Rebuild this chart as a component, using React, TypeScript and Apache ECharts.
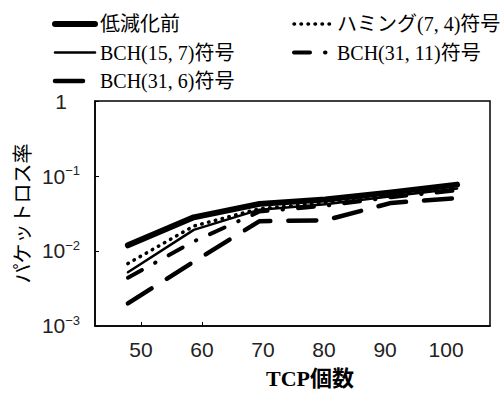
import { useEffect, useRef } from 'react';
import * as echarts from 'echarts';

// Categories (TCP count) and tick labels
const xCategories = ['50', '60', '70', '80', '90', '100'];
const xTickValues = [50, 60, 70, 80, 90, 100];
const xMarkedTicks = [50, 60];

// Series names
const nameBase = '低減化前';
const nameHam = 'ハミング(7, 4)符号';
const nameB157 = 'BCH(15, 7)符号';
const nameB3111 = 'BCH(31, 11)符号';
const nameB316 = 'BCH(31, 6)符号';

// Packet loss rate values
const baseline = [0.0119, 0.0281, 0.0425, 0.0485, 0.0605, 0.0767];
const hamming74 = [0.0068, 0.0215, 0.0367, 0.0438, 0.0554, 0.0702];
const bch157 = [0.0052, 0.0191, 0.0356, 0.0419, 0.0538, 0.0681];
const bch3111 = [0.0044, 0.0134, 0.0336, 0.0401, 0.0522, 0.0643];
const bch316 = [0.0020, 0.0072, 0.0250, 0.0257, 0.0438, 0.0507];

const SERIF = "'Liberation Serif', 'Noto Sans CJK JP', serif";
const SANS = "'Liberation Sans', 'Noto Sans', sans-serif";
const JP = "'Noto Sans CJK JP', sans-serif";

export default function App() {
  const ref = useRef<HTMLDivElement>(null);
  useEffect(() => {
    const chart = echarts.init(ref.current!, null, { renderer: 'svg' });
    const mk = (name: string, data: number[], lineStyle: any) => ({
      name,
      type: 'line',
      xAxisIndex: 1,
      yAxisIndex: 0,
      data,
      symbol: 'none',
      lineStyle: { color: '#000', cap: 'round', join: 'round', ...lineStyle },
      itemStyle: { color: '#000' },
    });
    const legendText = { fontFamily: SERIF, fontSize: 20, lineHeight: 20, color: '#000' };
    chart.setOption({
      animation: false,
      backgroundColor: '#fff',
      grid: {
        left: 95,
        right: 12,
        top: 101,
        bottom: 59,
        show: true,
        borderColor: '#000',
        borderWidth: 1.5,
      },
      legend: [
        {
          orient: 'vertical',
          left: 47,
          top: 9,
          itemWidth: 40,
          itemHeight: 14,
          itemGap: 8.5,
          itemStyle: { opacity: 0 },
          lineStyle: { width: 'inherit' },
          data: [nameBase, nameB157, nameB316],
          textStyle: legendText,
        },
        {
          orient: 'vertical',
          left: 287,
          top: 9,
          itemWidth: 36,
          itemHeight: 14,
          itemGap: 8.5,
          itemStyle: { opacity: 0 },
          lineStyle: { width: 'inherit' },
          data: [nameHam, nameB3111],
          textStyle: { ...legendText, padding: [0, 0, 0, 2] },
        },
      ],
      xAxis: [
        {
          type: 'value',
          min: 42.46,
          max: 107.2,
          position: 'bottom',
          name: 'TCP個数',
          nameLocation: 'middle',
          nameGap: 41,
          nameTextStyle: {
            fontFamily: SERIF,
            fontSize: 22,
            fontWeight: 'bold',
            color: '#000',
            padding: [0, 0, 0, 35],
          },
          axisLine: { show: true, lineStyle: { color: '#000', width: 1.5 } },
          axisTick: {
            show: true,
            inside: true,
            length: 4,
            customValues: xMarkedTicks,
            lineStyle: { color: '#000', width: 1 },
          },
          axisLabel: {
            customValues: xTickValues,
            fontFamily: SANS,
            fontSize: 21,
            color: '#222',
            margin: 13,
          },
          splitLine: { show: false },
        },
        {
          type: 'category',
          data: xCategories,
          boundaryGap: true,
          show: false,
        },
      ],
      yAxis: {
        type: 'log',
        logBase: 10,
        min: 0.001,
        max: 1,
        name: 'パケットロス率',
        nameLocation: 'middle',
        nameRotate: 90,
        nameGap: 64,
        nameTextStyle: { fontFamily: JP, fontSize: 20, color: '#000' },
        axisLine: { show: true, lineStyle: { color: '#000', width: 1.5 } },
        axisTick: { show: true, inside: true, length: 4, lineStyle: { color: '#000' } },
        splitLine: { show: false },
        minorTick: { show: false },
        axisLabel: {
          align: 'center',
          margin: 34,
          color: '#222',
          formatter: (v: number) => {
            const e = Math.round(Math.log10(v));
            return e === 0 ? '{n|1}' : `{n|10}{s|−${-e}}`;
          },
          rich: {
            n: { fontFamily: SANS, fontSize: 21, color: '#222', lineHeight: 24 },
            s: { fontFamily: SANS, fontSize: 13, color: '#222', verticalAlign: 'top', lineHeight: 14 },
          },
        },
      },
      series: [
        mk(nameBase, baseline, { width: 6, type: 'solid' }),
        mk(nameHam, hamming74, { width: 3.5, type: [0.5, 6.5] }),
        mk(nameB157, bch157, { width: 2.5, type: 'solid' }),
        mk(nameB3111, bch3111, { width: 4, type: [16, 15, 0.5, 15] }),
        mk(nameB316, bch316, { width: 4.5, type: [28, 18] }),
      ],
    });
    return () => chart.dispose();
  }, []);
  return (
    <div
      ref={ref}
      style={{ position: 'fixed', left: 0, top: 0, width: 502, height: 394 }}
    />
  );
}
